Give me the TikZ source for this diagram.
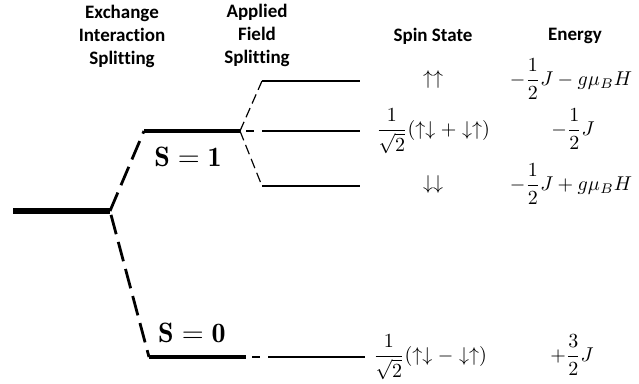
\documentclass[tikz,border=0pt]{standalone}
\usepackage{amsmath}
\usepackage{fontspec}
\newfontfamily\hdrfont{Carlito}[Ligatures=NoCommon]
\begin{document}
\begin{tikzpicture}[x=0.5pt,y=-0.5pt,
  hdr/.style={font=\hdrfont\bfseries\fontsize{9.5}{11.5}\selectfont,align=center,inner sep=0pt},
  mth/.style={font=\fontsize{10}{12}\selectfont,inner sep=0pt,anchor=mid},
  slabel/.style={font=\fontsize{14}{17}\selectfont,inner sep=0pt},
  lev0/.style={line width=3pt},
  lev1/.style={line width=2pt},
  lev2/.style={line width=1pt},
  exdash/.style={line width=1.4pt,dash pattern=on 10pt off 4pt},
  fdash/.style={line width=0.6pt,dash pattern=on 5pt off 2.5pt},
  gapdash/.style={line width=0.6pt,dash pattern=on 0pt off 3pt on 4pt off 20pt}]
\useasboundingbox (0,0) rectangle (639,384);
% level coordinates
\coordinate (g0l) at (13,211);  \coordinate (g0r) at (110,211);
\coordinate (s1l) at (144,131); \coordinate (s1r) at (240,131);
\coordinate (s0l) at (149,357); \coordinate (s0r) at (246,357);
\coordinate (t1l) at (262,81);  \coordinate (t1r) at (360,81);
\coordinate (t0l) at (262,131); \coordinate (t0r) at (360,131);
\coordinate (tml) at (262,186); \coordinate (tmr) at (360,186);
\coordinate (e0l) at (268,357); \coordinate (e0r) at (365,357);
% levels
\draw[lev0] (g0l) -- (g0r);
\draw[lev1] (s1l) -- (s1r);
\draw[lev1] (s0l) -- (s0r);
\draw[lev2] (t1l) -- (t1r);
\draw[lev2] (t0l) -- (t0r);
\draw[lev2] (tml) -- (tmr);
\draw[lev2] (e0l) -- (e0r);
% connectors
\draw[exdash] (g0r) -- (s1l);
\draw[exdash,dash phase=12pt] (g0r) -- (s0l);
\draw[fdash] (s1r) -- (t1l);
\draw[fdash] (s1r) -- (tml);
\draw[gapdash] (s1r) -- (t0l);
\draw[gapdash] (s0r) -- (e0l);
% labels
\node[hdr] (hx) at (122,36) {Exchange\\Interaction\\Splitting};
\node[hdr] (hf) at (257,35) {Applied\\Field\\Splitting};
\node[hdr] (hs) at (433,36) {Spin State};
\node[hdr] (he) at (575,36) {Energy};
\node[slabel] (ls1) at (188,157) {$\mathbf{S=1}$};
\node[slabel] (ls0) at (192,333) {$\mathbf{S=0}$};
\node[mth] (st1) at (433,80) {$\uparrow\uparrow$};
\node[mth] (st0) at (433,131) {$\dfrac{1}{\sqrt2}(\uparrow\downarrow+\downarrow\uparrow)$};
\node[mth] (stm) at (433,185) {$\downarrow\downarrow$};
\node[mth] (sts) at (430,357) {$\dfrac{1}{\sqrt2}(\uparrow\downarrow-\downarrow\uparrow)$};
\node[mth] (en1) at (571,81) {$-\dfrac{1}{2}J-g\mu_BH$};
\node[mth] (en0) at (573,131) {$-\dfrac{1}{2}J$};
\node[mth] (enm) at (571,186) {$-\dfrac{1}{2}J+g\mu_BH$};
\node[mth] (ens) at (572,357) {$+\dfrac{3}{2}J$};
\end{tikzpicture}
\end{document}
